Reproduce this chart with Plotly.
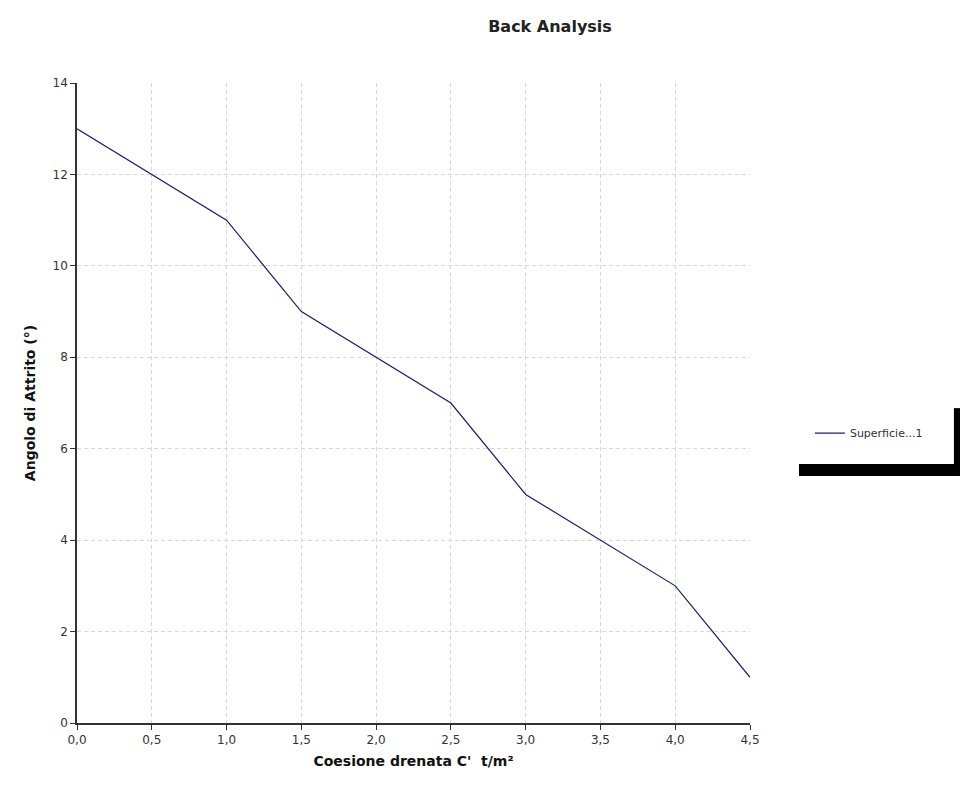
import plotly.graph_objects as go

coesione = [0.0, 0.5, 1.0, 1.5, 2.0, 2.5, 3.0, 3.5, 4.0, 4.5]
angolo = [13, 12, 11, 9, 8, 7, 5, 4, 3, 1]
x_ticks = [0.0, 0.5, 1.0, 1.5, 2.0, 2.5, 3.0, 3.5, 4.0, 4.5]
x_ticklabels = ["0,0", "0,5", "1,0", "1,5", "2,0", "2,5", "3,0", "3,5", "4,0", "4,5"]
y_ticks = [0, 2, 4, 6, 8, 10, 12, 14]

fig = go.Figure()
fig.add_trace(go.Scatter(x=coesione, y=angolo, mode="lines", name="Superficie...1",
                         line=dict(color="#1c1c6e", width=1.2)))

font_family = "DejaVu Sans, Verdana, sans-serif"
W, H = 960, 787
fig.update_layout(
    width=W, height=H,
    paper_bgcolor="white", plot_bgcolor="white",
    margin=dict(l=77, r=210, t=83, b=64),
    title=dict(text="<b>Back Analysis</b>", x=550/W, xanchor="center", y=1-26/H, yanchor="middle",
               font=dict(family=font_family, size=16, color="#222")),
    showlegend=True,
    legend=dict(x=1.089, y=0.453, xanchor="left", yanchor="middle", itemwidth=30,
                font=dict(family=font_family, size=11, color="#333"), bgcolor="rgba(0,0,0,0)"),
    font=dict(family=font_family, color="#333"),
)
fig.update_xaxes(range=[0, 4.5], tickvals=x_ticks, ticktext=x_ticklabels,
                 showline=True, linecolor="#333", linewidth=1.5,
                 ticks="outside", ticklen=5, tickcolor="#333",
                 showgrid=True, gridcolor="#d8d8d8", griddash="4px,3px", gridwidth=1,
                 zeroline=False, tickfont=dict(size=12, color="#333"),
                 title=dict(text="<b>Coesione drenata C'  t/m²</b>", font=dict(size=14, color="#111"), standoff=10))
fig.update_yaxes(range=[0, 14], tickvals=y_ticks,
                 showline=True, linecolor="#333", linewidth=1.5,
                 ticks="outside", ticklen=5, tickcolor="#333",
                 showgrid=True, gridcolor="#d8d8d8", griddash="4px,3px", gridwidth=1,
                 zeroline=False, tickfont=dict(size=12, color="#333"),
                 title=dict(text="<b>Angolo di Attrito (°)</b>", font=dict(size=14, color="#111"), standoff=14))

# legend box shadow bars
fig.add_shape(type="rect", xref="paper", yref="paper", x0=1.0728, x1=1.312, y0=0.386, y1=0.4047,
              fillcolor="black", line_width=0)
fig.add_shape(type="rect", xref="paper", yref="paper", x0=1.303, x1=1.312, y0=0.39, y1=0.492,
              fillcolor="black", line_width=0)

fig.write_html("out.html", config={"displayModeBar": False},
               post_script="document.body.style.margin='0';document.body.style.overflow='hidden';")
